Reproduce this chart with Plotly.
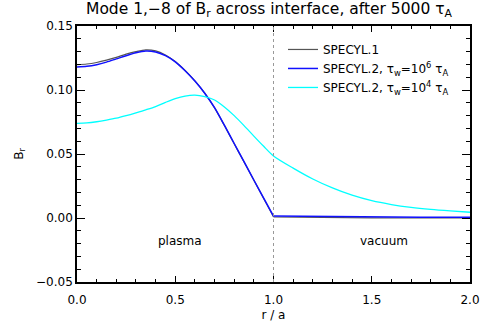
import plotly.graph_objects as go

# ---- data ----
r_plasma = [0.00, 0.05, 0.10, 0.15, 0.20, 0.25, 0.30, 0.35, 0.40, 0.45, 0.50,
            0.55, 0.60, 0.65, 0.70, 0.75, 0.80, 0.85, 0.90, 0.95, 1.00]
r_vac = [1.00, 1.25, 1.50, 1.75, 2.00]
r_vac_fine = [1.0, 1.1, 1.2, 1.3, 1.4, 1.5, 1.6, 1.7, 1.8, 1.9, 2.0]

specyl1_plasma = [0.1198, 0.1203, 0.1215, 0.1233, 0.1255, 0.1280, 0.1300, 0.1314, 0.1306,
                  0.1274, 0.1223, 0.1153, 0.1071, 0.0975, 0.0860, 0.0723, 0.0580, 0.0438,
                  0.0295, 0.0153, 0.0010]
specyl1_vac = [0.0008, 0.0002, 0.0001, 0.0000, 0.0000]

tw6_plasma = [0.1180, 0.1185, 0.1198, 0.1218, 0.1243, 0.1268, 0.1291, 0.1305, 0.1297,
              0.1268, 0.1220, 0.1151, 0.1070, 0.0975, 0.0862, 0.0725, 0.0582, 0.0440,
              0.0297, 0.0155, 0.0015]
tw6_vac = [0.0015, 0.0011, 0.0008, 0.0006, 0.0005]

tw4_plasma = [0.0740, 0.0743, 0.0752, 0.0765, 0.0780, 0.0800, 0.0822, 0.0845, 0.0870,
              0.0903, 0.0933, 0.0953, 0.0960, 0.0948, 0.0922, 0.0868, 0.0800, 0.0722,
              0.0640, 0.0560, 0.0485]
tw4_vac = [0.0485, 0.0390, 0.0305, 0.0235, 0.0178, 0.0135, 0.0105, 0.0083, 0.0067, 0.0055, 0.0045]

names = ["SPECYL.1",
         "SPECYL.2, τ<sub>w</sub>=10<sup>6</sup> τ<sub>A</sub>",
         "SPECYL.2, τ<sub>w</sub>=10<sup>4</sup> τ<sub>A</sub>"]
colors = ["#555555", "#1010ff", "#00ffff"]

x_ticks = [0.0, 0.5, 1.0, 1.5, 2.0]
y_ticks = [-0.05, 0.00, 0.05, 0.10, 0.15]

FONT = "DejaVu Sans"

fig = go.Figure()
# SPECYL.1
fig.add_trace(go.Scatter(x=r_plasma, y=specyl1_plasma, mode="lines", name=names[0],
                         legendgroup="a", line=dict(color=colors[0], width=1.2, shape="spline", smoothing=0.8)))
fig.add_trace(go.Scatter(x=r_vac, y=specyl1_vac, mode="lines", showlegend=False,
                         legendgroup="a", line=dict(color=colors[0], width=1.2)))
# tau_w 1e6
fig.add_trace(go.Scatter(x=r_plasma, y=tw6_plasma, mode="lines", name=names[1],
                         legendgroup="b", line=dict(color=colors[1], width=1.5, shape="spline", smoothing=0.8)))
fig.add_trace(go.Scatter(x=r_vac, y=tw6_vac, mode="lines", showlegend=False,
                         legendgroup="b", line=dict(color=colors[1], width=1.5)))
# tau_w 1e4
fig.add_trace(go.Scatter(x=r_plasma + r_vac_fine[1:], y=tw4_plasma + tw4_vac[1:], mode="lines",
                         name=names[2], legendgroup="c",
                         line=dict(color=colors[2], width=1.3, shape="spline", smoothing=0.8)))

fig.add_vline(x=1.0, line=dict(color="#999999", width=1, dash="dot"))

fig.add_annotation(x=0.525, y=-0.018, text="plasma", showarrow=False,
                   font=dict(family=FONT, size=12, color="black"))
fig.add_annotation(x=1.56, y=-0.018, text="vacuum", showarrow=False,
                   font=dict(family=FONT, size=12, color="black"))

axis_common = dict(showline=True, linecolor="black", linewidth=1.5, mirror="allticks",
                   ticks="inside", tickwidth=1, tickcolor="black",
                   showgrid=False, zeroline=False, automargin=False,
                   tickfont=dict(family=FONT, size=12, color="black"))

fig.update_xaxes(range=[0, 2], tickvals=x_ticks, ticktext=[f"{v:.1f}" for v in x_ticks],
                 ticklen=6, ticklabelstandoff=6,
                 minor=dict(ticks="inside", ticklen=3, dtick=0.1, tickcolor="black", showgrid=False),
                 title=dict(text="r / a", font=dict(family=FONT, size=12, color="black"), standoff=4),
                 **axis_common)
fig.update_yaxes(range=[-0.05, 0.15], tickvals=y_ticks,
                 ticktext=["−0.05" if v < 0 else f"{v:.2f}" for v in y_ticks],
                 ticklen=8,
                 minor=dict(ticks="inside", ticklen=4, dtick=0.01, tickcolor="black", showgrid=False),
                 title=dict(text="B<sub>r</sub>", font=dict(family=FONT, size=12, color="black"), standoff=10),
                 **axis_common)

fig.update_layout(
    width=493, height=323,
    margin=dict(l=77, r=23, t=26, b=41),
    paper_bgcolor="white", plot_bgcolor="white",
    title=dict(text="Mode 1,−8 of B<sub>r</sub> across interface, after 5000 τ<sub>A</sub>",
               x=(78 + 460) / 2 / 493, xanchor="center", y=1 - 3 / 323, yanchor="top",
               font=dict(family=FONT, size=15.5, color="black"), automargin=False),
    legend=dict(x=(283 - 77) / 393, y=0.965, xanchor="left", yanchor="top", bgcolor="rgba(0,0,0,0)",
                font=dict(family=FONT, size=12, color="black"), itemwidth=30,
                tracegroupgap=0),
    showlegend=True,
)

fig.write_html("out.html", config={"displayModeBar": False},
               post_script="document.body.style.margin='0';document.body.style.overflow='hidden';")
